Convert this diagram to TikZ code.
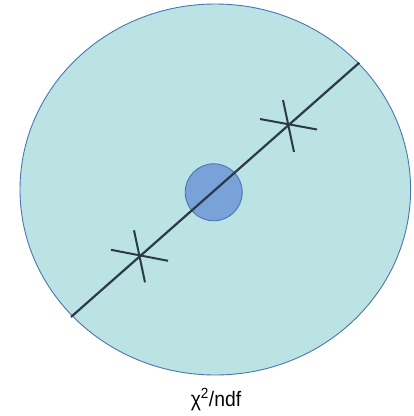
\documentclass[tikz,border=0pt]{standalone}
\usepackage{fontspec}
\setmainfont{Liberation Sans}
\usetikzlibrary{shapes.geometric}
\definecolor{regionfill}{HTML}{BCE3E3}
\definecolor{rimblue}{HTML}{4A74B4}
\definecolor{corefill}{HTML}{79A2D8}
\definecolor{trackgray}{HTML}{2B3A4A}
\begin{document}
\begin{tikzpicture}[x=1pt, y=-1pt,
        region/.style={ellipse, draw=rimblue, fill=regionfill, line width=0.9pt, inner sep=0pt},
        core/.style={circle, draw=rimblue, fill=corefill, line width=0.9pt, inner sep=0pt, minimum size=57pt},
        track/.style={draw=trackgray, line width=2.2pt},
        tick/.style={draw=trackgray, line width=2pt}]
        \useasboundingbox (0,0) rectangle (414,416);
        \node[region, minimum width=390.6pt, minimum height=371pt] (R) at (215.3, 189.5) {};
        \node[core] (C) at (213.7, 192.3) {};
        \coordinate (T1) at (71, 317);
        \coordinate (T2) at (359.3, 62.7);
        \coordinate (X1) at (139.5, 255.8);
        \coordinate (X2) at (288.5, 124.5);
        \draw[track] (T1) -- (T2);
        \draw[tick] ([shift={(-5.5,-25.5)}]X1) -- ([shift={(5.5,26.5)}]X1);
        \draw[tick] ([shift={(-28.5,-6)}]X1) -- ([shift={(28.5,5)}]X1);
        \draw[tick] ([shift={(-5.5,-24.5)}]X2) -- ([shift={(5.5,27.5)}]X2);
        \draw[tick] ([shift={(-28.5,-5.5)}]X2) -- ([shift={(28.5,5)}]X2);
        \node[font=\fontsize{21}{25}\selectfont, anchor=base, xscale=0.92, transform shape] (L) at (216, 406) {χ\textsuperscript{2}/ndf};
\end{tikzpicture}
\end{document}
